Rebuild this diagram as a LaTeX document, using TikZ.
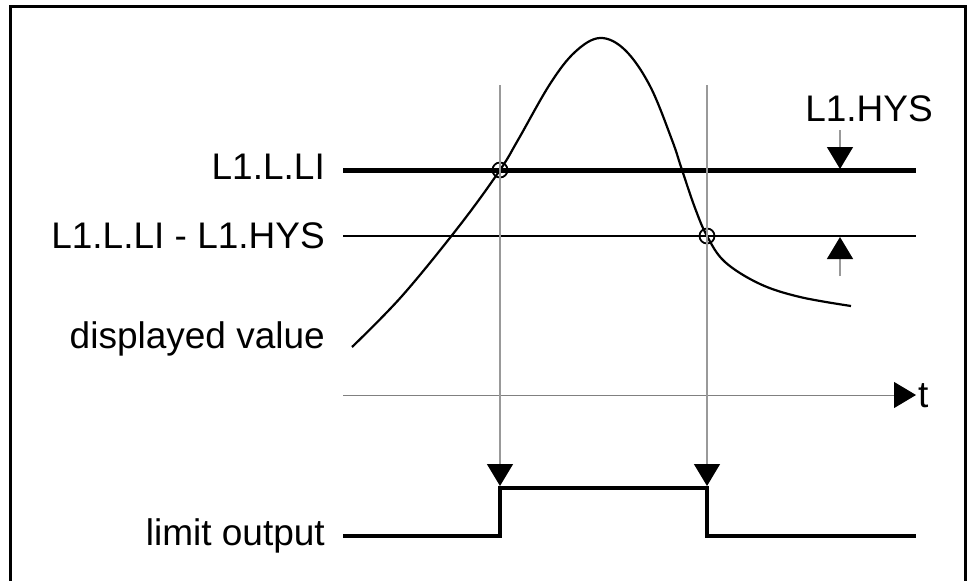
\documentclass[tikz,border=0pt]{standalone}
\usepackage{fontspec}
\setmainfont{Liberation Sans}
\usetikzlibrary{arrows.meta}

\begin{document}
\begin{tikzpicture}[x=1pt, y=-1pt,
    level/.style={line width=2.2pt},
    limitlevel/.style={line width=5pt},
    signal/.style={line width=4pt, line join=miter},
    guide/.style={line width=1.5pt, black!40},
    timeaxis/.style={line width=1pt, black!50},
    droptip/.style={-{Triangle[width=26pt, length=22pt, color=black]}},
    mark circle/.style={circle, draw, line width=1.8pt, minimum size=15pt, inner sep=0pt},
    txt/.style={font=\fontsize{37}{44}\selectfont, inner sep=0pt}]
  \useasboundingbox (0,0) rectangle (972,581);
  % frame, open at the bottom
  \draw[line width=3pt] (10,581) -- (10,6) -- (965,6) -- (965,581);

  % labels on the left
  \node[txt, anchor=base east] (lim) at (325,179) {L1.L.LI};
  \node[txt, anchor=base east] (hys) at (325,248) {L1.L.LI - L1.HYS};
  \node[txt, anchor=base east] (val) at (325,348) {displayed value};
  \node[txt, anchor=base east] (out) at (325,545) {limit output};

  % limit and limit minus hysteresis
  \coordinate (lim-a) at (343,170);  \coordinate (lim-b) at (916,170);
  \coordinate (hys-a) at (343,236);  \coordinate (hys-b) at (916,236);
  \draw[limitlevel] (lim-a) -- (lim-b);
  \draw[level] (hys-a) -- (hys-b);

  % hysteresis band
  \node[txt, anchor=base] (hyslabel) at (869,121) {L1.HYS};
  \coordinate (band-top) at (840,130);  \coordinate (band-hi) at (840,169);
  \coordinate (band-bot) at (840,276);  \coordinate (band-lo) at (840,237);
  \draw[guide, droptip] (band-top) -- (band-hi);
  \draw[guide, droptip] (band-bot) -- (band-lo);

  % displayed value
  \draw[level, line join=round] plot[smooth, tension=0.6] coordinates {
    (352,347) (402,296) (460,225) (500,170) (518,140) (550,84) (575,52)
    (600,38) (625,50) (650,86) (672,140) (682,170) (695,208) (707,236)
    (725,262) (760,284) (800,297) (851,306)};

  % switching points
  \node[mark circle] (on) at (500,170) {};
  \node[mark circle] (off) at (707,236) {};

  % time axis
  \coordinate (t-a) at (343,395);  \coordinate (t-b) at (916,395);
  \draw[timeaxis, droptip] (t-a) -- (t-b);
  \node[txt, anchor=base west] (t) at (918,407) {t};

  % guides down to the output
  \coordinate (on-top) at (500,85);   \coordinate (on-bot) at (500,486);
  \coordinate (off-top) at (707,85);  \coordinate (off-bot) at (707,486);
  \draw[guide, droptip] (on-top) -- (on-bot);
  \draw[guide, droptip] (off-top) -- (off-bot);

  % limit output
  \coordinate (out-a) at (343,536);  \coordinate (out-b) at (916,536);
  \draw[signal] (out-a) -- (on |- out-a) -- (on |- 0,488) -- (off |- 0,488)
    -- (off |- out-a) -- (out-b);
\end{tikzpicture}
\end{document}
